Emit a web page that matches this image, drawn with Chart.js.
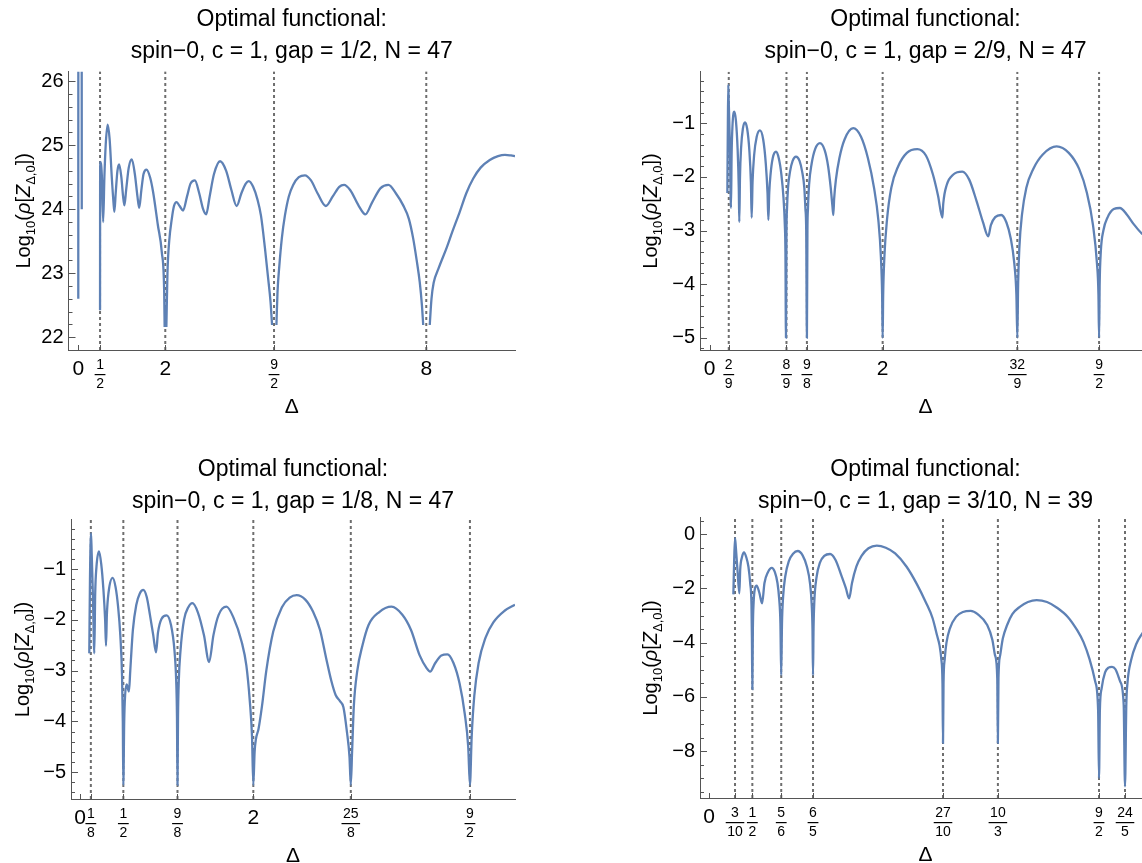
<!DOCTYPE html>
<html>
<head>
<meta charset="utf-8">
<script src="https://cdn.jsdelivr.net/npm/chart.js@4/dist/chart.umd.min.js"></script>
<style>
  html, body { margin: 0; padding: 0; background: #fff; overflow: hidden; width: 1142px; height: 863px; }
  .panel { position: absolute; }
</style>
</head>
<body>
<div class="panel" style="left:0px;top:0px;width:540px;height:425px"><canvas id="tl"></canvas></div>
<div class="panel" style="left:590px;top:0px;width:580px;height:425px"><canvas id="tr"></canvas></div>
<div class="panel" style="left:0px;top:450px;width:540px;height:413px"><canvas id="bl"></canvas></div>
<div class="panel" style="left:590px;top:450px;width:580px;height:413px"><canvas id="br"></canvas></div>
<script>
const FONT = '"Liberation Sans", Arial, sans-serif';
const BLUE = "#5e81b5";

// DATA  (Δ, log10 rho), null = break in the curve

// gap = 1/2
const tlCurve = [
  [0.0, 22.6], [0.002, 27.5], [0.078, 27.5], [0.08, 24.0], [0.3, null],
  [0.5, 22.42], [0.503, 24.74], [0.54, 24.55], [0.572, 23.8], [0.6, 24.5],
  [0.63, 25.0], [0.675, 25.32], [0.72, 25.1], [0.77, 24.5], [0.81, 24.1],
  [0.83, 23.96], [0.86, 24.25], [0.9, 24.6], [0.94, 24.7], [0.99, 24.5],
  [1.03, 24.2], [1.06, 24.06], [1.1, 24.3], [1.16, 24.65], [1.23, 24.78],
  [1.3, 24.55], [1.36, 24.2], [1.4, 24.02], [1.45, 24.3], [1.5, 24.55],
  [1.57, 24.62], [1.65, 24.5], [1.72, 24.27], [1.83, 23.75], [1.92, 23.33],
  [1.975, 22.7], [1.985, 22.16], [2.005, null],
  [2.025, 22.16], [2.05, 23.0], [2.09, 23.5], [2.15, 23.85], [2.2, 24.05],
  [2.26, 24.11], [2.33, 24.05], [2.41, 23.98], [2.5, 24.2], [2.58, 24.4],
  [2.68, 24.45], [2.78, 24.25], [2.87, 24.0], [2.94, 23.92], [3.02, 24.2],
  [3.12, 24.55], [3.26, 24.75], [3.4, 24.6], [3.52, 24.3], [3.64, 24.05],
  [3.75, 24.25], [3.85, 24.4], [3.92, 24.44], [4.02, 24.35], [4.12, 24.15],
  [4.2, 23.9], [4.29, 23.4], [4.36, 22.95], [4.42, 22.55], [4.455, 22.19],
  [4.505, null],
  [4.555, 22.19], [4.58, 22.7], [4.62, 23.1], [4.68, 23.55], [4.75, 23.9],
  [4.84, 24.2], [4.94, 24.38], [5.07, 24.5], [5.21, 24.53], [5.35, 24.45],
  [5.5, 24.25], [5.69, 24.05], [5.85, 24.2], [6.0, 24.35], [6.11, 24.38],
  [6.25, 24.3], [6.45, 24.05], [6.6, 23.92], [6.75, 24.1], [6.95, 24.33],
  [7.13, 24.38], [7.3, 24.25], [7.47, 24.06], [7.6, 23.85], [7.7, 23.54],
  [7.78, 23.2], [7.85, 22.86], [7.9, 22.5], [7.93, 22.19], [8.0, null],
  [8.08, 22.19], [8.12, 22.6], [8.17, 22.85], [8.28, 23.07], [8.47, 23.4],
  [8.6, 23.65], [8.77, 23.96], [8.92, 24.25], [9.08, 24.48], [9.25, 24.65],
  [9.46, 24.77], [9.65, 24.83], [9.81, 24.85], [9.95, 24.84], [10.04, 24.83]
];

// gap = 2/9
const trCurve = [
  [0.206, -2.3], [0.212, -1.0], [0.217, -0.28], [0.222, -0.6], [0.235, -1.4],
  [0.248, -2.58], [0.255, -1.6], [0.265, -1.05], [0.287, -0.78], [0.305, -0.95],
  [0.325, -1.5], [0.338, -2.2], [0.344, -2.84], [0.352, -2.0], [0.365, -1.45],
  [0.385, -1.1], [0.41, -0.98], [0.435, -1.1], [0.46, -1.5], [0.478, -2.1],
  [0.487, -2.76], [0.497, -2.1], [0.515, -1.6], [0.545, -1.25], [0.583, -1.13],
  [0.62, -1.3], [0.65, -1.75], [0.67, -2.3], [0.68, -2.8], [0.69, -2.3],
  [0.705, -1.95], [0.73, -1.65], [0.768, -1.53], [0.8, -1.65], [0.83, -1.95],
  [0.855, -2.4], [0.87, -2.9], [0.877, -3.4], [0.883, -5.0], [0.889, -3.0],
  [0.895, -2.6], [0.907, -2.2], [0.93, -1.9], [0.96, -1.7], [0.999, -1.62],
  [1.04, -1.7], [1.07, -1.9], [1.095, -2.2], [1.108, -2.6], [1.117, -3.0],
  [1.125, -5.0], [1.131, -3.0], [1.137, -2.6], [1.15, -2.15], [1.18, -1.75],
  [1.22, -1.48], [1.276, -1.37], [1.33, -1.5], [1.37, -1.8], [1.4, -2.2],
  [1.42, -2.55], [1.43, -2.71], [1.44, -2.4], [1.46, -2.05], [1.5, -1.65],
  [1.56, -1.3], [1.66, -1.09], [1.75, -1.25], [1.83, -1.65], [1.9, -2.2],
  [1.95, -2.8], [1.98, -3.5], [1.994, -4.2], [2.0, -5.0], [2.006, -4.2],
  [2.02, -3.5], [2.05, -2.8], [2.1, -2.2], [2.18, -1.8], [2.28, -1.55],
  [2.4, -1.48], [2.5, -1.6], [2.58, -1.95], [2.64, -2.35], [2.69, -2.76],
  [2.7, -2.5], [2.74, -2.15], [2.82, -1.95], [2.92, -1.9], [3.0, -2.05],
  [3.085, -2.45], [3.16, -2.85], [3.22, -3.11], [3.25, -2.9], [3.3, -2.75],
  [3.37, -2.71], [3.43, -2.85], [3.48, -3.15], [3.52, -3.6], [3.545, -4.2],
  [3.556, -5.0], [3.565, -4.0], [3.58, -3.3], [3.61, -2.7], [3.66, -2.2],
  [3.74, -1.85], [3.85, -1.58], [4.01, -1.43], [4.15, -1.55], [4.27, -1.85],
  [4.36, -2.3], [4.43, -2.9], [4.475, -3.6], [4.493, -4.2], [4.5, -5.0],
  [4.507, -4.0], [4.52, -3.4], [4.55, -3.0], [4.6, -2.75], [4.67, -2.6],
  [4.74, -2.58], [4.82, -2.7], [4.9, -2.88], [4.99, -3.05], [5.1, -3.2]
];

// gap = 1/8
const blCurve = [
  [0.107, -2.66], [0.115, -1.2], [0.127, -0.29], [0.135, -0.7], [0.15, -1.6],
  [0.165, -2.66], [0.175, -1.5], [0.19, -0.95], [0.219, -0.65], [0.245, -0.9],
  [0.27, -1.4], [0.29, -2.0], [0.3, -2.51], [0.31, -1.9], [0.33, -1.45],
  [0.377, -1.17], [0.41, -1.35], [0.44, -1.75], [0.465, -2.3], [0.485, -3.1],
  [0.494, -4.0], [0.5, -5.25], [0.51, -4.0], [0.52, -3.5], [0.538, -3.27],
  [0.565, -3.41], [0.58, -3.0], [0.61, -2.2], [0.65, -1.7], [0.69, -1.48],
  [0.73, -1.41], [0.77, -1.55], [0.807, -1.9], [0.845, -2.3], [0.877, -2.64],
  [0.9, -2.25], [0.94, -1.98], [1.0, -1.91], [1.05, -2.1], [1.09, -2.6],
  [1.11, -3.2], [1.119, -3.9], [1.125, -5.25], [1.131, -3.9], [1.14, -3.2],
  [1.16, -2.6], [1.2, -2.0], [1.25, -1.75], [1.296, -1.67], [1.36, -1.85],
  [1.43, -2.3], [1.49, -2.83], [1.54, -2.3], [1.6, -1.9], [1.69, -1.74],
  [1.77, -1.95], [1.865, -2.43], [1.92, -2.9], [1.96, -3.61], [1.985, -4.3],
  [2.0, -5.25], [2.015, -4.6], [2.03, -4.35], [2.06, -4.15], [2.1, -3.7],
  [2.15, -3.0], [2.23, -2.23], [2.33, -1.75], [2.42, -1.56], [2.5, -1.51],
  [2.6, -1.6], [2.69, -1.84], [2.77, -2.2], [2.84, -2.75], [2.9, -3.2],
  [2.95, -3.48], [3.0, -3.6], [3.04, -3.72], [3.08, -4.2], [3.11, -4.7],
  [3.125, -5.25], [3.14, -4.6], [3.16, -3.7], [3.2, -3.0], [3.26, -2.5],
  [3.33, -2.1], [3.45, -1.85], [3.595, -1.74], [3.72, -1.9], [3.82, -2.2],
  [3.92, -2.7], [4.0, -2.95], [4.04, -3.02], [4.1, -2.85], [4.17, -2.7],
  [4.24, -2.68], [4.31, -2.85], [4.38, -3.25], [4.44, -3.85], [4.48, -4.5],
  [4.5, -5.25], [4.52, -4.3], [4.55, -3.5], [4.6, -2.85], [4.68, -2.35],
  [4.77, -2.05], [4.9, -1.82], [5.02, -1.7]
];

// gap = 3/10
const brCurve = [
  [0.281, -2.22], [0.29, -1.0], [0.3, -0.15], [0.31, -0.5], [0.33, -1.4],
  [0.35, -2.18], [0.36, -1.3], [0.38, -0.85], [0.404, -0.67], [0.43, -0.85],
  [0.455, -1.2], [0.475, -1.8], [0.49, -2.6], [0.495, -3.8], [0.5, -5.71],
  [0.506, -3.5], [0.515, -2.5], [0.53, -2.0], [0.55, -1.9], [0.58, -2.15],
  [0.612, -2.55], [0.64, -1.8], [0.68, -1.4], [0.724, -1.24], [0.76, -1.4],
  [0.79, -1.8], [0.81, -2.4], [0.824, -3.3], [0.833, -5.2], [0.842, -3.3],
  [0.855, -2.3], [0.88, -1.55], [0.92, -1.0], [0.97, -0.72], [1.024, -0.62],
  [1.08, -0.78], [1.13, -1.2], [1.165, -1.8], [1.185, -2.6], [1.194, -3.5],
  [1.2, -5.2], [1.206, -3.5], [1.215, -2.5], [1.24, -1.6], [1.28, -1.05],
  [1.33, -0.8], [1.397, -0.73], [1.46, -0.95], [1.53, -1.55], [1.58, -2.0],
  [1.617, -2.37], [1.65, -1.8], [1.7, -1.2], [1.76, -0.8], [1.84, -0.52],
  [1.936, -0.42], [2.04, -0.5], [2.148, -0.71], [2.28, -1.2], [2.4, -1.85],
  [2.5, -2.5], [2.58, -3.1], [2.63, -3.72], [2.66, -4.1], [2.68, -4.6],
  [2.694, -5.5], [2.7, -7.7], [2.706, -5.5], [2.72, -4.6], [2.74, -4.0],
  [2.78, -3.47], [2.85, -3.05], [2.93, -2.87], [3.02, -2.83], [3.1, -2.95],
  [3.21, -3.35], [3.27, -3.9], [3.3, -4.46], [3.326, -5.3], [3.333, -7.7],
  [3.34, -5.3], [3.36, -4.46], [3.39, -3.85], [3.44, -3.35], [3.5, -2.95],
  [3.59, -2.67], [3.68, -2.5], [3.78, -2.43], [3.9, -2.5], [4.02, -2.72],
  [4.14, -3.05], [4.25, -3.55], [4.32, -3.97], [4.39, -4.6], [4.457, -5.44],
  [4.49, -6.5], [4.5, -9.0], [4.51, -6.5], [4.53, -5.69], [4.57, -5.1],
  [4.61, -4.92], [4.65, -4.89], [4.69, -4.98], [4.745, -5.44], [4.785, -6.3],
  [4.8, -9.3], [4.815, -6.3], [4.83, -5.44], [4.87, -4.65], [4.93, -4.05],
  [5.0, -3.66], [5.1, -3.25]
];

// TICKS  [numerator, denominator]

const tlTicks = [[0, 1], [1, 2], [2, 1], [9, 2], [8, 1]];
const trTicks = [[0, 1], [2, 9], [8, 9], [9, 8], [2, 1], [32, 9], [9, 2]];
const blTicks = [[0, 1], [1, 8], [1, 2], [9, 8], [2, 1], [25, 8], [9, 2]];
const brTicks = [[0, 1], [3, 10], [1, 2], [5, 6], [6, 5], [27, 10], [10, 3], [9, 2], [24, 5]];

const tlYTicks = [22, 23, 24, 25, 26];
const trYTicks = [-5, -4, -3, -2, -1];
const blYTicks = [-5, -4, -3, -2, -1];
const brYTicks = [-8, -6, -4, -2, 0];

const tlLabel = "spin\u22120, c = 1, gap = 1/2, N = 47";
const trLabel = "spin\u22120, c = 1, gap = 2/9, N = 47";
const blLabel = "spin\u22120, c = 1, gap = 1/8, N = 47";
const brLabel = "spin\u22120, c = 1, gap = 3/10, N = 39";



// DECORATION PLUGIN (dotted markers, inward ticks, fraction labels, axis titles)

const decor = {

  id: "decor",

  beforeDatasetsDraw(chart, args, o) {

    const { ctx, chartArea: a } = chart;
    const x = chart.scales.x;

    ctx.save();
    ctx.strokeStyle = "#6e6e6e";
    ctx.lineWidth = 2;
    ctx.setLineDash([3, 3]);

    o.ticks.forEach(t => {
      if (t[0] === 0) return;
      const px = x.getPixelForValue(t[0] / t[1]);
      ctx.beginPath();
      ctx.moveTo(px, a.bottom);
      ctx.lineTo(px, a.top);
      ctx.stroke();
    });

    ctx.restore();
  },

  afterDraw(chart, args, o) {

    const { ctx, chartArea: a } = chart;
    const x = chart.scales.x;
    const y = chart.scales.y;

    ctx.save();

    // y ticks, pointing inwards
    ctx.strokeStyle = "#555";
    ctx.lineWidth = 1;

    const n0 = Math.ceil(y.min / o.minor - 1e-9);
    const n1 = Math.floor(y.max / o.minor + 1e-9);

    for (let n = n0; n <= n1; n++) {
      const v = n * o.minor;
      const major = Math.abs(v - Math.round(v)) < 1e-6 && o.yTicks.includes(Math.round(v));
      const py = Math.round(y.getPixelForValue(v)) + 0.5;
      ctx.beginPath();
      ctx.moveTo(a.left, py);
      ctx.lineTo(a.left + (major ? 7 : 4), py);
      ctx.stroke();
    }

    // x ticks and fraction labels
    ctx.fillStyle = "#000";
    ctx.textAlign = "center";
    ctx.textBaseline = "middle";

    o.ticks.forEach(t => {

      const px = x.getPixelForValue(t[0] / t[1]);

      ctx.beginPath();
      ctx.moveTo(Math.round(px) + 0.5, a.bottom);
      ctx.lineTo(Math.round(px) + 0.5, a.bottom - 5);
      ctx.stroke();

      if (t[1] === 1) {
        ctx.font = "21px " + FONT;
        ctx.fillText(String(t[0]), px, a.bottom + 19);
      }
      else {
        ctx.font = "14px " + FONT;
        const w = Math.max(
          ctx.measureText(String(t[0])).width,
          ctx.measureText(String(t[1])).width
        ) + 3;
        ctx.fillText(String(t[0]), px, a.bottom + 15);
        ctx.fillText(String(t[1]), px, a.bottom + 34);
        ctx.fillRect(px - w / 2, a.bottom + 24, w, 1.2);
      }
    });

    // x title
    ctx.font = "21px " + FONT;
    ctx.fillText("\u0394", (a.left + a.right) / 2, a.bottom + 57);

    // y title  Log10(ρ[Z_{Δ,0}])
    const parts = [
      ["Log", 20, "", 0],
      ["10", 13, "", 5],
      ["(", 20, "", 0],
      ["\u03c1", 20, "italic ", 0],
      ["[", 20, "", 0],
      ["Z", 20, "italic ", 0],
      ["\u0394,0", 13, "", 5],
      ["])", 20, "", 0]
    ];

    ctx.translate(o.yTitleX, (a.top + a.bottom) / 2);
    ctx.rotate(-Math.PI / 2);
    ctx.textAlign = "left";
    ctx.textBaseline = "alphabetic";

    let total = 0;
    parts.forEach(p => {
      ctx.font = p[2] + p[1] + "px " + FONT;
      p.w = ctx.measureText(p[0]).width;
      total += p.w;
    });

    let cx = -total / 2;
    parts.forEach(p => {
      ctx.font = p[2] + p[1] + "px " + FONT;
      ctx.fillText(p[0], cx, 7 + p[3]);
      cx += p.w;
    });

    ctx.restore();
  }
};



// BUILD ONE PANEL

function makePanel(id, curve, ticks, yTicks, label, box) {

  return new Chart(
    document.getElementById(id),
    {
      type: "line",

      data: {
        datasets: [{
          data: curve.map(p => ({ x: p[0], y: p[1] })),
          borderColor: BLUE,
          borderWidth: 2.3,
          pointRadius: 0,
          fill: false,
          spanGaps: false,
          cubicInterpolationMode: "monotone"
        }]
      },

      options: {
        responsive: true,
        maintainAspectRatio: false,
        animation: false,
        events: [],

        layout: {
          padding: { left: 0, top: 0, bottom: 0, right: box.padRight }
        },

        plugins: {
          legend: { display: false },
          tooltip: { enabled: false },
          title: {
            display: true,
            fullSize: false,
            text: ["Optimal functional:", label],
            color: "#000",
            font: { family: FONT, size: 23, weight: "normal", lineHeight: 1.39 },
            padding: { top: 4, bottom: box.titleBottom }
          },
          decor: {
            ticks: ticks,
            yTicks: yTicks,
            minor: box.minor,
            yTitleX: box.yTitleX
          }
        },

        scales: {
          x: {
            type: "linear",
            min: box.xMin,
            max: box.xMax,
            afterFit: s => { s.height = box.xh; },
            ticks: { display: false },
            grid: { display: false, drawTicks: false },
            border: { display: true, color: "#555", width: 1 }
          },
          y: {
            type: "linear",
            min: box.yMin,
            max: box.yMax,
            afterFit: s => { s.width = box.yw; },
            afterBuildTicks: s => { s.ticks = yTicks.map(v => ({ value: v })); },
            grid: { display: false, drawTicks: false },
            border: { display: true, color: "#555", width: 1 },
            ticks: {
              color: "#000",
              padding: 5,
              font: { family: FONT, size: 20 },
              callback: v => (v < 0 ? "\u2212" + Math.abs(v) : String(v))
            }
          }
        }
      },

      plugins: [decor]
    }
  );
}



// PANELS

makePanel("tl", tlCurve, tlTicks, tlYTicks, tlLabel, {
  xMin: -0.225, xMax: 10.04, yMin: 21.8, yMax: 26.15,
  yw: 68.5, xh: 75, padRight: 25, titleBottom: 3.7, minor: 0.2, yTitleX: 23
});

makePanel("tr", trCurve, trTicks, trYTicks, trLabel, {
  xMin: -0.11, xMax: 5.1, yMin: -5.23, yMax: -0.04,
  yw: 110, xh: 75, padRight: 19, titleBottom: 4, minor: 0.2, yTitleX: 60
});

makePanel("bl", blCurve, blTicks, blYTicks, blLabel, {
  xMin: -0.104, xMax: 5.02, yMin: -5.53, yMax: -0.03,
  yw: 71, xh: 64, padRight: 25, titleBottom: 2, minor: 0.2, yTitleX: 22
});

makePanel("br", brCurve, brTicks, brYTicks, brLabel, {
  xMin: -0.104, xMax: 5.1, yMin: -9.73, yMax: 0.6,
  yw: 110, xh: 65, padRight: 19, titleBottom: 0, minor: 0.5, yTitleX: 60
});
</script>
</body>
</html>
